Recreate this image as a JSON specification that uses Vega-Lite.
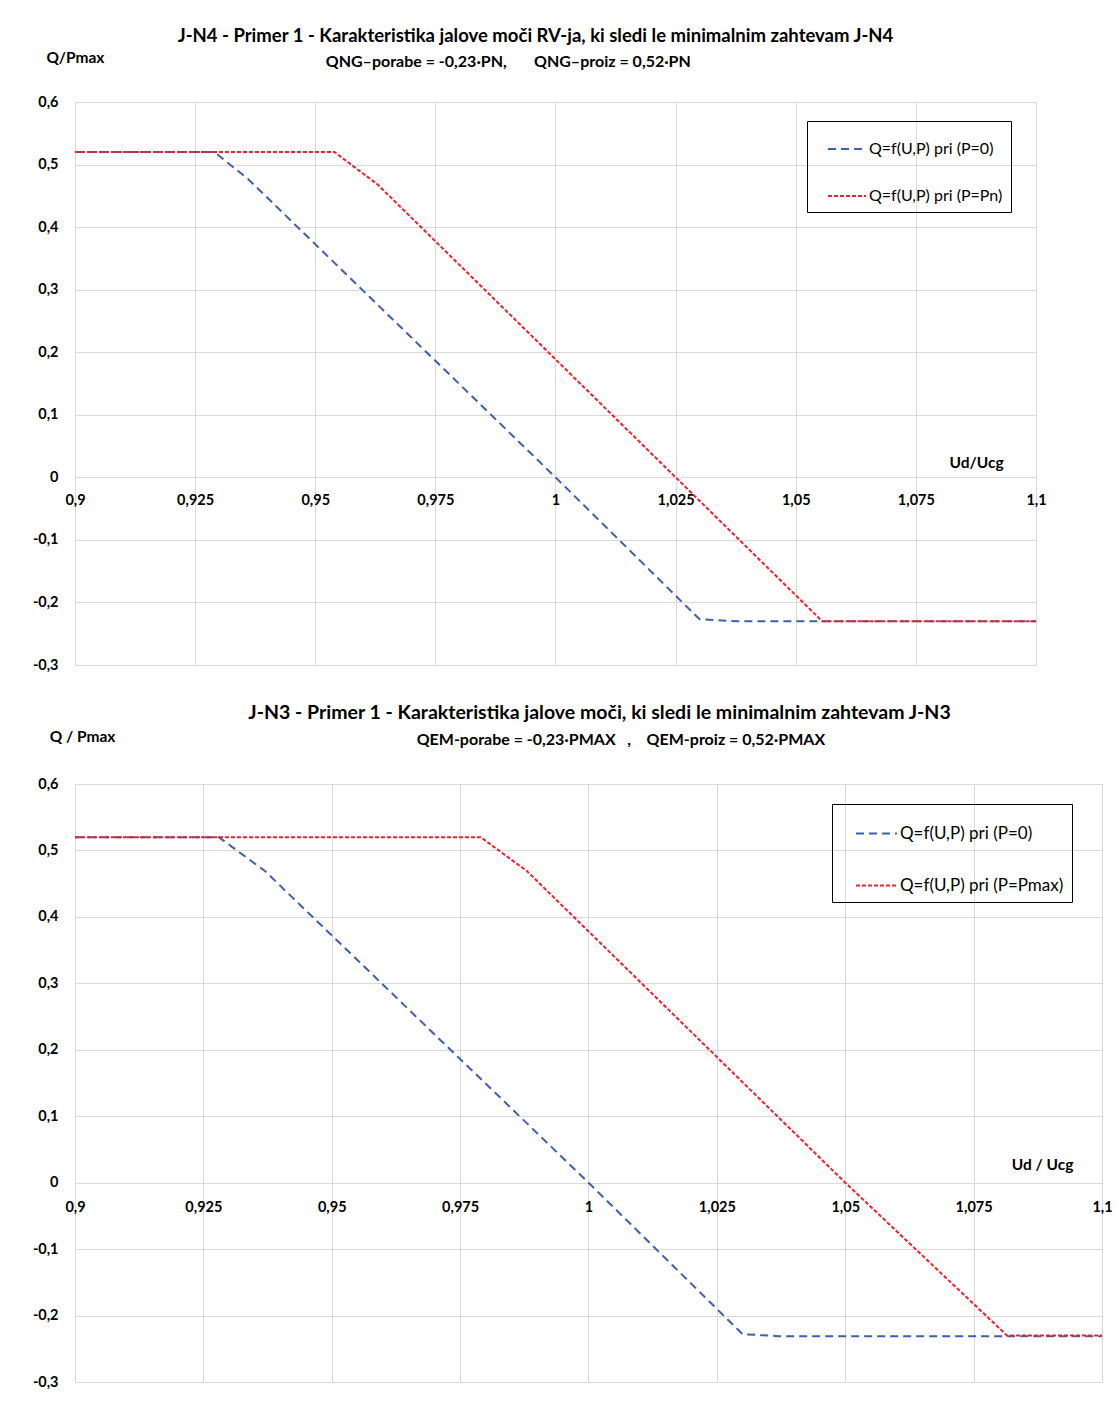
{
  "$schema": "https://vega.github.io/schema/vega-lite/v6.json",
  "background": "white",
  "padding": {"left": 31, "top": 26, "right": 0, "bottom": 0},
  "config": {
    "font": "Lato",
    "view": {"stroke": "#d9d9d9"},
    "axis": {
      "gridColor": "#d9d9d9",
      "gridWidth": 1,
      "labelFont": "Lato",
      "labelFontWeight": "bold",
      "labelFontSize": 14.5,
      "labelColor": "#000000",
      "titleFont": "Lato",
      "titleFontWeight": "bold",
      "titleFontSize": 15.5,
      "titleColor": "#000000",
      "ticks": false,
      "domain": false
    },
    "title": {
      "font": "Lato",
      "fontSize": 18.5,
      "fontWeight": "bold",
      "color": "#000000",
      "subtitleFont": "Lato",
      "subtitleFontSize": 16,
      "subtitleFontWeight": "bold",
      "subtitleColor": "#000000",
      "subtitlePadding": 9
    },
    "legend": {
      "labelFont": "Lato",
      "labelFontSize": 16,
      "labelColor": "#000000",
      "labelLimit": 300
    }
  },
  "datasets": {
    "top": [
      {"u": 0.9, "q": 0.52, "serie": "Q=f(U,P) pri (P=0)"},
      {"u": 0.929, "q": 0.52, "serie": "Q=f(U,P) pri (P=0)"},
      {"u": 0.936, "q": 0.477, "serie": "Q=f(U,P) pri (P=0)"},
      {"u": 1.0, "q": 0.0, "serie": "Q=f(U,P) pri (P=0)"},
      {"u": 1.03, "q": -0.227, "serie": "Q=f(U,P) pri (P=0)"},
      {"u": 1.038, "q": -0.23, "serie": "Q=f(U,P) pri (P=0)"},
      {"u": 1.1, "q": -0.23, "serie": "Q=f(U,P) pri (P=0)"},
      {"u": 0.9, "q": 0.52, "serie": "Q=f(U,P) pri (P=Pn)"},
      {"u": 0.954, "q": 0.52, "serie": "Q=f(U,P) pri (P=Pn)"},
      {"u": 0.963, "q": 0.468, "serie": "Q=f(U,P) pri (P=Pn)"},
      {"u": 1.025, "q": 0.0, "serie": "Q=f(U,P) pri (P=Pn)"},
      {"u": 1.0555, "q": -0.23, "serie": "Q=f(U,P) pri (P=Pn)"},
      {"u": 1.1, "q": -0.23, "serie": "Q=f(U,P) pri (P=Pn)"}
    ],
    "bottom": [
      {"u": 0.9, "q": 0.52, "serie": "Q=f(U,P) pri (P=0)"},
      {"u": 0.928, "q": 0.52, "serie": "Q=f(U,P) pri (P=0)"},
      {"u": 0.937, "q": 0.469, "serie": "Q=f(U,P) pri (P=0)"},
      {"u": 1.0, "q": 0.0, "serie": "Q=f(U,P) pri (P=0)"},
      {"u": 1.03, "q": -0.228, "serie": "Q=f(U,P) pri (P=0)"},
      {"u": 1.037, "q": -0.231, "serie": "Q=f(U,P) pri (P=0)"},
      {"u": 1.1, "q": -0.231, "serie": "Q=f(U,P) pri (P=0)"},
      {"u": 0.9, "q": 0.52, "serie": "Q=f(U,P) pri (P=Pmax)"},
      {"u": 0.979, "q": 0.52, "serie": "Q=f(U,P) pri (P=Pmax)"},
      {"u": 0.988, "q": 0.469, "serie": "Q=f(U,P) pri (P=Pmax)"},
      {"u": 1.05, "q": 0.0, "serie": "Q=f(U,P) pri (P=Pmax)"},
      {"u": 1.0815, "q": -0.23, "serie": "Q=f(U,P) pri (P=Pmax)"},
      {"u": 1.1, "q": -0.23, "serie": "Q=f(U,P) pri (P=Pmax)"}
    ]
  },
  "resolve": {
    "scale": {"x": "independent", "y": "independent", "color": "independent", "strokeDash": "independent"},
    "legend": {"color": "independent", "strokeDash": "independent"}
  },
  "spacing": 30,
  "vconcat": [
    {
      "width": 961,
      "height": 563,
      "title": {
        "text": "J-N4 - Primer 1 - Karakteristika jalove moči RV-ja, ki sledi le minimalnim zahtevam J-N4",
        "subtitle": "QNG–porabe = -0,23·PN,\u00a0\u00a0\u00a0\u00a0\u00a0\u00a0\u00a0QNG–proiz = 0,52·PN\u00a0\u00a0\u00a0\u00a0\u00a0\u00a0\u00a0\u00a0\u00a0\u00a0\u00a0\u00a0\u00a0\u00a0\u200b",
        "anchor": "middle",
        "dx": -20,
        "offset": -20
      },
      "data": {"name": "top"},
      "mark": {"type": "line", "strokeWidth": 2},
      "encoding": {
        "x": {
          "field": "u",
          "type": "quantitative",
          "scale": {"domain": [0.9, 1.1], "nice": false, "zero": false},
          "axis": {
            "values": [0.9, 0.925, 0.95, 0.975, 1, 1.025, 1.05, 1.075, 1.1],
            "labelExpr": "replace(toString(datum.value), '.', ',')",
            "labelFlush": false,
            "labelPadding": 16,
            "offset": -187.67,
            "title": "Ud/Ucg",
            "titleX": 901,
            "titleY": -15,
            "titleAlign": "center",
            "titleBaseline": "middle"
          }
        },
        "y": {
          "field": "q",
          "type": "quantitative",
          "scale": {"domain": [-0.3, 0.6], "nice": false, "zero": false},
          "axis": {
            "values": [-0.3, -0.2, -0.1, 0, 0.1, 0.2, 0.3, 0.4, 0.5, 0.6],
            "labelExpr": "replace(toString(datum.value), '.', ',')",
            "labelPadding": 17,
            "title": "Q/Pmax",
            "titleAngle": 0,
            "titleX": 0,
            "titleY": -45,
            "titleAlign": "center",
            "titleBaseline": "middle"
          }
        },
        "color": {
          "field": "serie",
          "type": "nominal",
          "scale": {"domain": ["Q=f(U,P) pri (P=0)", "Q=f(U,P) pri (P=Pn)"], "range": ["#3E5FAE", "#F0202A"]},
          "legend": {
            "title": null,
            "orient": "none",
            "legendX": 732,
            "legendY": 19,
            "strokeColor": "#000000",
            "padding": 8,
            "symbolOffset": 12,
            "symbolType": "stroke",
            "symbolSize": 1444,
            "symbolStrokeWidth": 2,
            "labelOffset": 2,
            "rowPadding": 19
          }
        },
        "strokeDash": {
          "field": "serie",
          "type": "nominal",
          "scale": {"domain": ["Q=f(U,P) pri (P=0)", "Q=f(U,P) pri (P=Pn)"], "range": [[8, 5], [4, 2]]},
          "legend": null
        }
      }
    },
    {
      "width": 1027,
      "height": 598,
      "title": {
        "text": "J-N3 - Primer 1 - Karakteristika jalove moči, ki sledi le minimalnim zahtevam J-N3",
        "subtitle": "\u200b\u00a0\u00a0\u00a0\u00a0\u00a0\u00a0\u00a0\u00a0\u00a0\u00a0\u00a0QEM-porabe = -0,23·PMAX\u00a0\u00a0\u00a0,\u00a0\u00a0\u00a0\u00a0QEM-proiz = 0,52·PMAX",
        "anchor": "middle",
        "fontSize": 19.5,
        "dx": 11,
        "offset": -20
      },
      "data": {"name": "bottom"},
      "mark": {"type": "line", "strokeWidth": 2},
      "encoding": {
        "x": {
          "field": "u",
          "type": "quantitative",
          "scale": {"domain": [0.9, 1.1], "nice": false, "zero": false},
          "axis": {
            "values": [0.9, 0.925, 0.95, 0.975, 1, 1.025, 1.05, 1.075, 1.1],
            "labelExpr": "replace(toString(datum.value), '.', ',')",
            "labelFlush": false,
            "labelPadding": 18,
            "offset": -199.33,
            "title": "Ud / Ucg",
            "titleX": 967,
            "titleY": -18,
            "titleAlign": "center",
            "titleBaseline": "middle"
          }
        },
        "y": {
          "field": "q",
          "type": "quantitative",
          "scale": {"domain": [-0.3, 0.6], "nice": false, "zero": false},
          "axis": {
            "values": [-0.3, -0.2, -0.1, 0, 0.1, 0.2, 0.3, 0.4, 0.5, 0.6],
            "labelExpr": "replace(toString(datum.value), '.', ',')",
            "labelPadding": 17,
            "title": "Q / Pmax",
            "titleAngle": 0,
            "titleX": 7,
            "titleY": -48,
            "titleAlign": "center",
            "titleBaseline": "middle"
          }
        },
        "color": {
          "field": "serie",
          "type": "nominal",
          "scale": {"domain": ["Q=f(U,P) pri (P=0)", "Q=f(U,P) pri (P=Pmax)"], "range": ["#3E5FAE", "#F0202A"]},
          "legend": {
            "title": null,
            "orient": "none",
            "legendX": 757,
            "legendY": 20,
            "strokeColor": "#000000",
            "padding": 8,
            "symbolOffset": 15,
            "symbolType": "stroke",
            "symbolSize": 1681,
            "symbolStrokeWidth": 2,
            "labelOffset": 2,
            "labelFontSize": 17,
            "labelLimit": 300,
            "rowPadding": 22
          }
        },
        "strokeDash": {
          "field": "serie",
          "type": "nominal",
          "scale": {"domain": ["Q=f(U,P) pri (P=0)", "Q=f(U,P) pri (P=Pmax)"], "range": [[8, 5], [4, 2]]},
          "legend": null
        }
      }
    }
  ]
}
